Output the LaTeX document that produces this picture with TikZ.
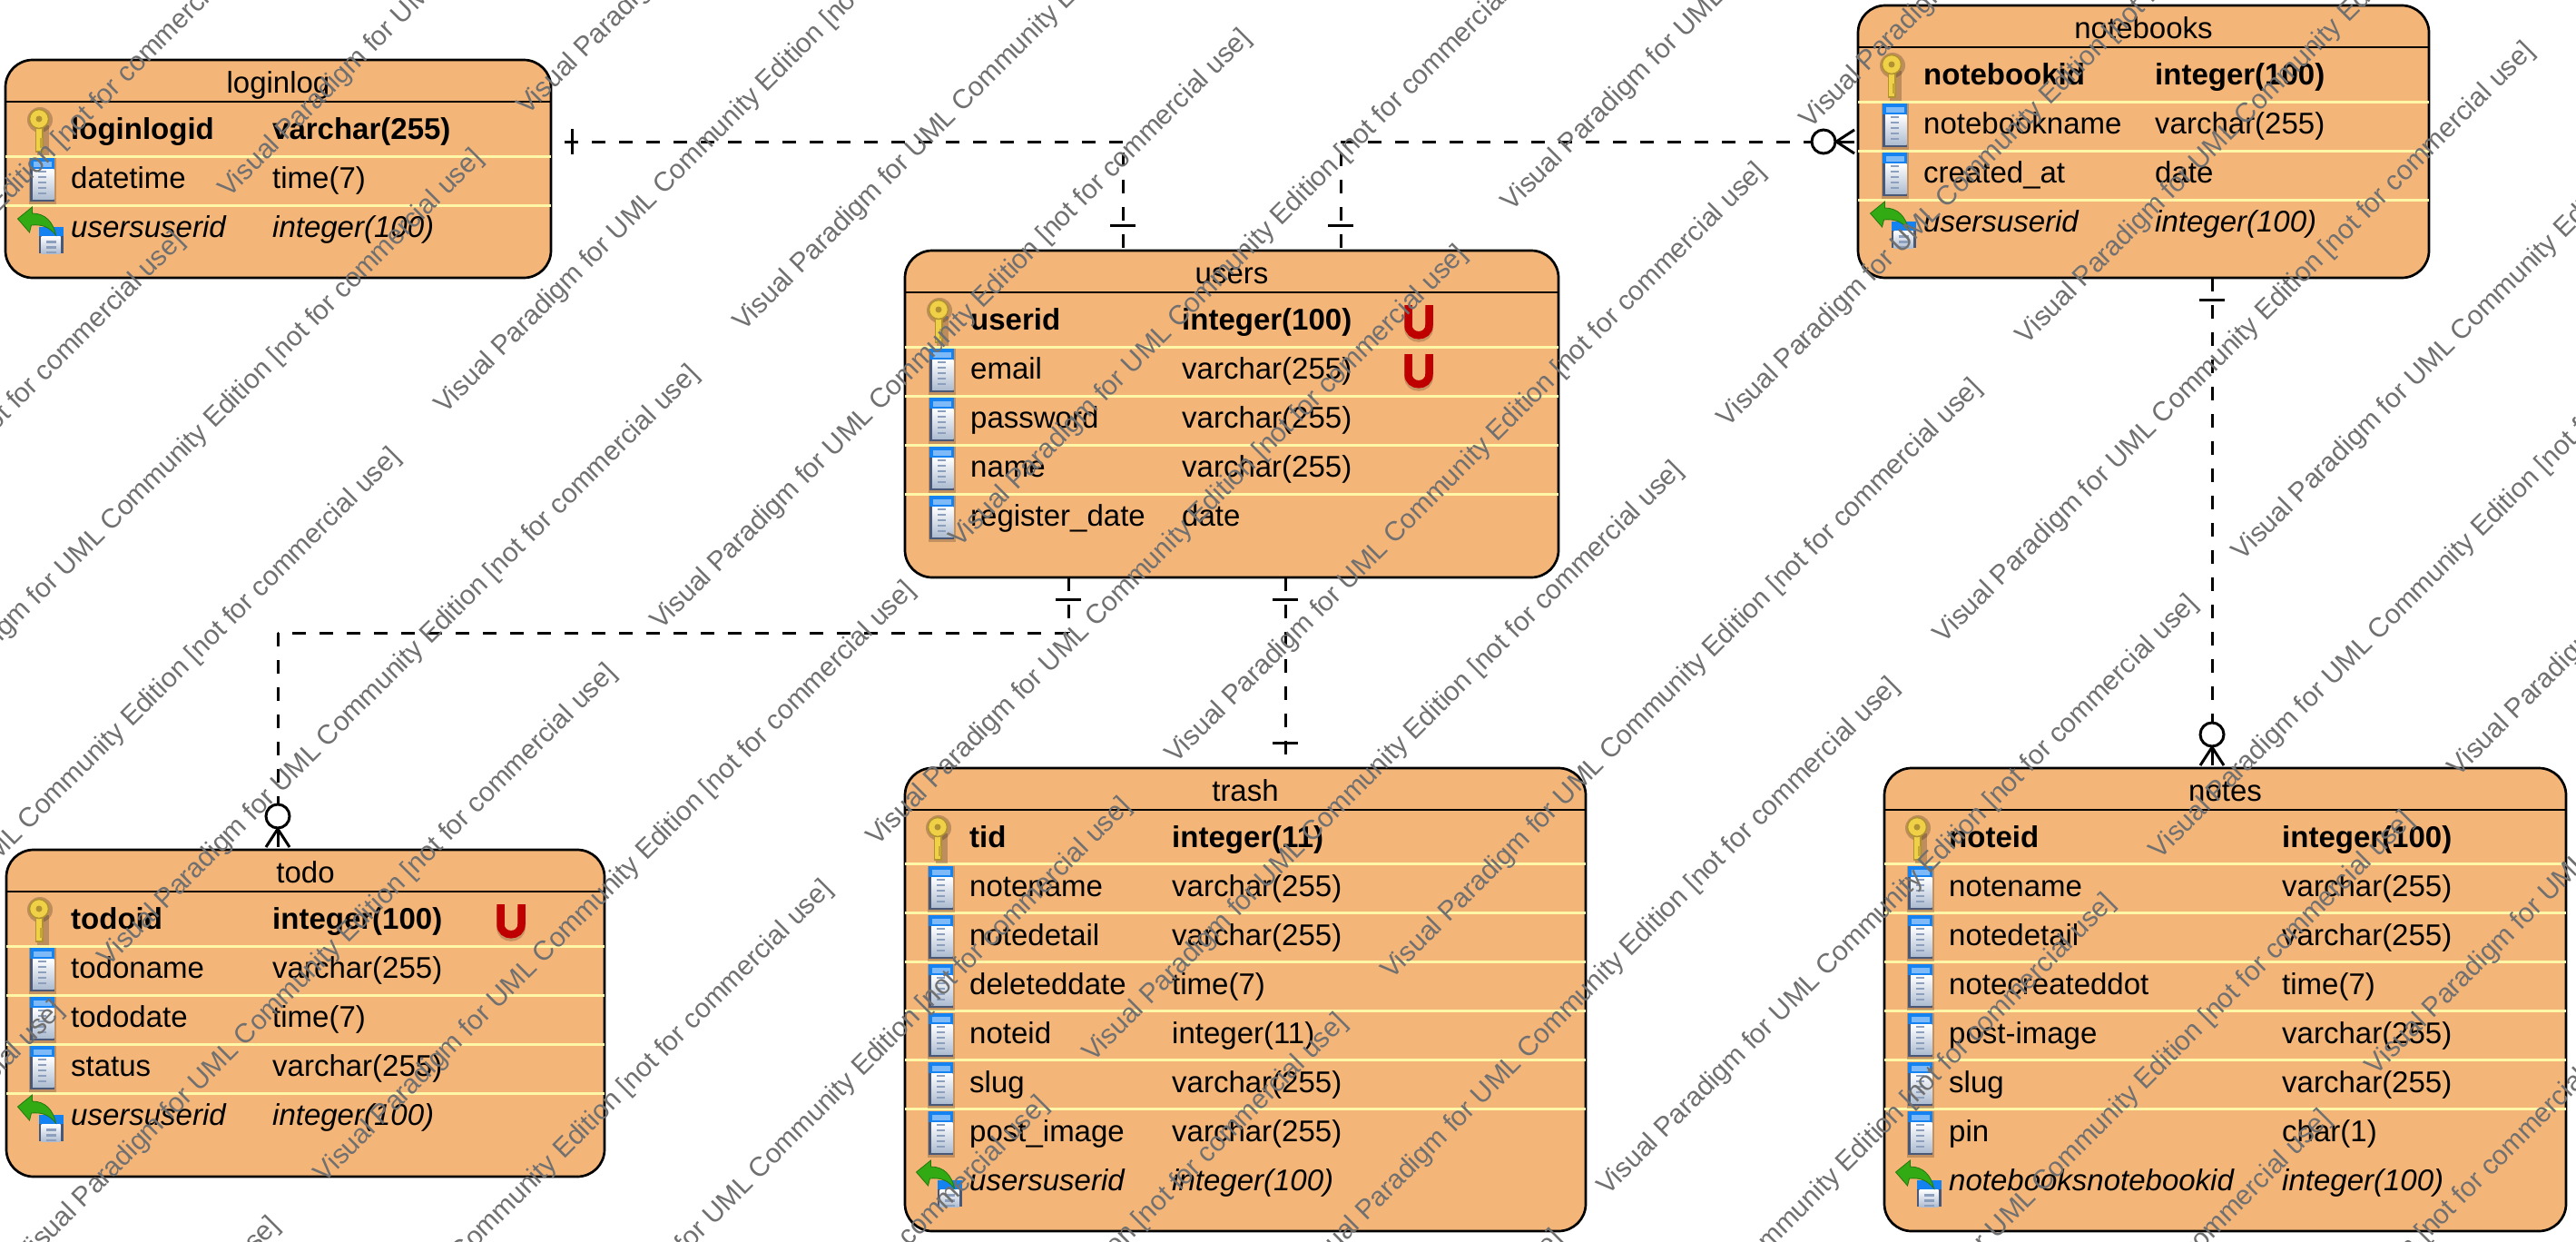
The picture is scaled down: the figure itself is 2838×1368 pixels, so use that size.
\documentclass[tikz,border=0pt]{standalone}
\usepackage{fontspec}
\setmainfont{Liberation Sans}
\definecolor{entfill}{RGB}{244,181,121}
\definecolor{sepcol}{RGB}{255,247,168}
\definecolor{wmcol}{RGB}{112,112,112}
\definecolor{ured}{RGB}{190,0,0}
\definecolor{keygold}{RGB}{240,208,70}
\definecolor{keyedge}{RGB}{176,146,50}
\definecolor{docblue}{RGB}{20,130,240}
\definecolor{docdark}{RGB}{72,88,118}
\definecolor{docbar}{RGB}{140,160,190}
\definecolor{fkgreen}{RGB}{50,170,20}
\tikzset{
  entity/.style={draw=black,line width=2.7pt,fill=entfill,rounded corners=30pt,inner sep=0pt,outer sep=0pt},
  headline/.style={draw=black,line width=2pt},
  sepline/.style={draw=sepcol,line width=3pt},
  titletext/.style={font=\fontsize{33}{36}\selectfont,anchor=base,inner sep=0pt,text=black},
  pktext/.style={font=\fontsize{33}{36}\bfseries\selectfont,inner sep=0pt},
  coltext/.style={font=\fontsize{33}{36}\selectfont,inner sep=0pt},
  fktext/.style={font=\fontsize{33}{36}\itshape\selectfont,inner sep=0pt},
  conn/.style={draw=black,line width=3pt,dash pattern=on 15pt off 15pt},
  tickline/.style={draw=black,line width=3pt},
  watermark/.style={font=\fontsize{30}{32}\selectfont,text=wmcol,inner sep=0pt,anchor=west,rotate=45},
  pkicon/.pic={
    \fill[black,opacity=.22] (-5.5,-6) rectangle (7.5,27);
    \fill[black,opacity=.22] (-2.5,-12) circle (14);
    \begin{scope}[xshift=-3.5pt]
    \fill[keygold,draw=keyedge,line width=1.5pt] (-3.5,-4) rectangle (4,23);
    \fill[keygold,draw=keyedge,line width=1.5pt] (0,-13) circle (10.5);
    \fill[keyedge] (0,-13) circle (3.5);
    \fill[keyedge!70!keygold] (1,8) rectangle (4,19);
    \end{scope}
  },
  colicon/.pic={
    \fill[black,opacity=.2] (-15,-24) rectangle (15,27);
    \fill[docdark] (-13.5,-24) rectangle (13.5,24);
    \shade[top color=white,bottom color=docbar!70] (-10.5,-12) rectangle (13,21);
    \fill[docblue] (-13.5,-24) rectangle (13.5,-12);
    \fill[docblue!55] (-10,-20.5) rectangle (10.5,-14);
    \foreach \b in {-9,-3,3,9,15} \fill[docbar] (-4.5,\b-1.25) rectangle (4.5,\b+1.25);
  },
  fkicon/.pic={
    \fill[docdark] (-4,-2) rectangle (23,27);
    \shade[top color=white,bottom color=docbar!70] (-1,8) rectangle (20,27);
    \fill[docblue] (-4,-2) rectangle (23,8);
    \fill[docbar] (4,13) rectangle (15,15.5);
    \fill[docbar] (4,19) rectangle (15,21.5);
    \fill[docbar] (4,25) rectangle (15,27);
    \fill[fkgreen,draw=fkgreen!70!black,line width=.8pt]
      (-27,-11) -- (-11,-24) -- (-11,-17) .. controls (3,-17) and (12,-8) .. (15,7)
      .. controls (8,-2) and (0,-5) .. (-12,-4) -- (-14,4) -- cycle;
  },
  uicon/.pic={
    \draw[black,opacity=.18,line width=9pt] (-11.5,-15) -- (-11.5,7) .. controls (-11.5,22) and (11.5,22) .. (11.5,7) -- (11.5,-15);
    \draw[ured,line width=8.5pt] (-11.5,-18) -- (-11.5,4) .. controls (-11.5,19) and (11.5,19) .. (11.5,4) -- (11.5,-18);
  },
  crowfoot/.pic={
    \draw[tickline] (0,14) -- (-13,34);
    \draw[tickline] (0,14) -- (13,34);
    \draw[tickline] (0,14) -- (0,34);
    \draw[tickline,fill=white] (0,0) circle (13);
  },
}
\newcommand{\entity}[7]{% name, left, top, right, bottom, header y, title
  \pgfmathsetmacro{\ecx}{(#2+#4)/2}
  \pgfmathsetmacro{\ecy}{(#3+#5)/2}
  \pgfmathsetmacro{\ew}{#4-#2}
  \pgfmathsetmacro{\eh}{#5-#3}
  \node[entity,minimum width=\ew pt,minimum height=\eh pt] (#1) at (\ecx,\ecy) {};
  \coordinate (#1-hy) at (0,#6);
  \draw[headline] (#1.west |- #1-hy) -- (#1.east |- #1-hy);
  \pgfmathsetmacro{\eby}{#6-10}
  \node[titletext] (#1-title) at (\ecx,\eby) {#7};
}
\newcommand{\seps}[3]{% name, header y, count
  \foreach \i in {1,...,#3}{
    \pgfmathsetmacro{\sy}{#2+6+54*\i}
    \coordinate (#1-sy) at (0,\sy);
    \draw[sepline] (#1.west |- #1-sy) -- (#1.east |- #1-sy);
  }
}
\newcommand{\entrow}[8]{% table, idx, xname, xtype, header y, kind, name, type
  \pgfmathsetmacro{\by}{#5+41+54*#2}
  \pgfmathsetmacro{\ix}{#3-31.5}
  \pgfmathsetmacro{\iy}{\by-9}
  \pic at (\ix,\iy) {#6icon};
  \node[#6text,anchor=base west] (#1-n#2) at (#3,\by) {#7};
  \node[#6text,anchor=base west] (#1-t#2) at (#4,\by) {#8};
}
\begin{document}
\begin{tikzpicture}[x=1pt,y=-1pt]
\useasboundingbox (0,0) rectangle (2838,1368);
\fill[white] (0,0) rectangle (2838,1368);

% entities
\entity{loginlog}{6}{66}{607}{306}{112}{loginlog}
\seps{loginlog}{112}{2}
\entrow{loginlog}{0}{78}{300}{112}{pk}{loginlogid}{varchar(255)}
\entrow{loginlog}{1}{78}{300}{112}{col}{datetime}{time(7)}
\entrow{loginlog}{2}{78}{300}{112}{fk}{usersuserid}{integer(100)}

\entity{users}{997}{276}{1717}{636}{322}{users}
\seps{users}{322}{4}
\entrow{users}{0}{1069}{1302}{322}{pk}{userid}{integer(100)}
\entrow{users}{1}{1069}{1302}{322}{col}{email}{varchar(255)}
\entrow{users}{2}{1069}{1302}{322}{col}{password}{varchar(255)}
\entrow{users}{3}{1069}{1302}{322}{col}{name}{varchar(255)}
\entrow{users}{4}{1069}{1302}{322}{col}{register\_date}{date}
\pic at (1563,354) {uicon};
\pic at (1563,408) {uicon};

\entity{notebooks}{2047}{6}{2676}{306}{52}{notebooks}
\seps{notebooks}{52}{3}
\entrow{notebooks}{0}{2119}{2374}{52}{pk}{notebookid}{integer(100)}
\entrow{notebooks}{1}{2119}{2374}{52}{col}{notebookname}{varchar(255)}
\entrow{notebooks}{2}{2119}{2374}{52}{col}{created\_at}{date}
\entrow{notebooks}{3}{2119}{2374}{52}{fk}{usersuserid}{integer(100)}

\entity{todo}{7}{936}{666}{1296}{982}{todo}
\seps{todo}{982}{4}
\entrow{todo}{0}{78}{300}{982}{pk}{todoid}{integer(100)}
\entrow{todo}{1}{78}{300}{982}{col}{todoname}{varchar(255)}
\entrow{todo}{2}{78}{300}{982}{col}{tododate}{time(7)}
\entrow{todo}{3}{78}{300}{982}{col}{status}{varchar(255)}
\entrow{todo}{4}{78}{300}{982}{fk}{usersuserid}{integer(100)}
\pic at (563,1014) {uicon};

\entity{trash}{997}{846}{1747}{1356}{892}{trash}
\seps{trash}{891}{6}
\entrow{trash}{0}{1068}{1291}{892}{pk}{tid}{integer(11)}
\entrow{trash}{1}{1068}{1291}{892}{col}{notename}{varchar(255)}
\entrow{trash}{2}{1068}{1291}{892}{col}{notedetail}{varchar(255)}
\entrow{trash}{3}{1068}{1291}{892}{col}{deleteddate}{time(7)}
\entrow{trash}{4}{1068}{1291}{892}{col}{noteid}{integer(11)}
\entrow{trash}{5}{1068}{1291}{892}{col}{slug}{varchar(255)}
\entrow{trash}{6}{1068}{1291}{892}{col}{post\_image}{varchar(255)}
\entrow{trash}{7}{1068}{1291}{892}{fk}{usersuserid}{integer(100)}

\entity{notes}{2076}{846}{2827}{1356}{892}{notes}
\seps{notes}{891}{6}
\entrow{notes}{0}{2147}{2514}{892}{pk}{noteid}{integer(100)}
\entrow{notes}{1}{2147}{2514}{892}{col}{notename}{varchar(255)}
\entrow{notes}{2}{2147}{2514}{892}{col}{notedetail}{varchar(255)}
\entrow{notes}{3}{2147}{2514}{892}{col}{notecreateddot}{time(7)}
\entrow{notes}{4}{2147}{2514}{892}{col}{post-image}{varchar(255)}
\entrow{notes}{5}{2147}{2514}{892}{col}{slug}{varchar(255)}
\entrow{notes}{6}{2147}{2514}{892}{col}{pin}{char(1)}
\entrow{notes}{7}{2147}{2514}{892}{fk}{notebooksnotebookid}{integer(100)}

% connectors
\coordinate (cLog) at (1237,156);
\coordinate (cBook) at (1477,156);
\coordinate (cBookEnd) at (2009,156);
\coordinate (cTodo) at (306,697);
\coordinate (cUserTodo) at (1177,697);
\coordinate (cTodoEnd) at (306,899);
\coordinate (cTrash) at (1416,846);
\coordinate (cNotes) at (2437,306);
\coordinate (cNotesEnd) at (2437,809);

\draw[conn,dash phase=15pt] (loginlog.east |- cLog) -- (cLog);
\draw[conn,dash phase=27pt] (users.north -| cLog) -- (cLog);
\draw[conn,dash phase=27pt] (users.north -| cBook) -- (cBook);
\draw[conn] (cBook) -- (cBookEnd);
\draw[conn] (users.south -| cUserTodo) -- (cUserTodo);
\draw[conn] (cUserTodo) -- (cTodo);
\draw[conn] (cTodo) -- (cTodoEnd);
\draw[conn] (users.south -| cTrash) -- (trash.north -| cTrash);
\draw[conn] (notebooks.south -| cNotes) -- (cNotesEnd);

% ticks and crow's feet
\draw[tickline] (630,142) -- (630,170);
\draw[tickline] (1223,248) -- (1251,248);
\draw[tickline] (1463,248) -- (1491,248);
\draw[tickline] (1163,660) -- (1191,660);
\draw[tickline] (1402,660) -- (1430,660);
\draw[tickline] (1402,818) -- (1430,818);
\draw[tickline] (2423,330) -- (2451,330);
\pic[rotate=90] at (cBookEnd) {crowfoot};
\pic at (cTodoEnd) {crowfoot};
\pic at (cNotesEnd) {crowfoot};

% watermark
\begin{scope}
\clip (0,0) rectangle (2838,1368);
\foreach \r in {-4,...,15}{
  \foreach \k in {-2,...,3}{
    \pgfmathsetmacro{\wS}{936+238*\r}
    \pgfmathsetmacro{\wD}{(mod(\r+40,2)==0?33:453)+1399*\k}
    \pgfmathsetmacro{\sx}{(\wS+\wD)/2}
    \pgfmathsetmacro{\sy}{(\wS-\wD)/2}
    \pgfmathtruncatemacro{\keep}{(\sx>-680)&&(\sx<2838)&&(\sy>0)&&(\sy<2040)?1:0}
    \ifnum\keep=1
      \pgfmathtruncatemacro{\ma}{\r+10}
      \pgfmathtruncatemacro{\na}{\k+10}
      \node[watermark] (wm-\ma-\na) at (\sx,\sy) {Visual Paradigm for UML Community Edition [not for commercial use]};
    \fi
  }
}
\end{scope}
\end{tikzpicture}
\end{document}
